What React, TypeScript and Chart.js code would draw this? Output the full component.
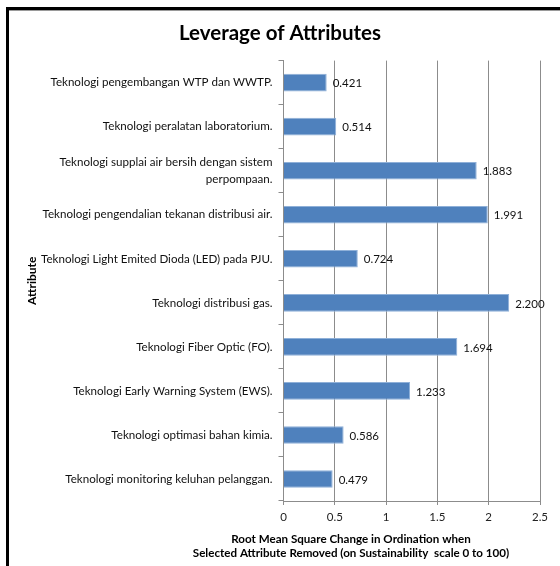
import React, { useEffect, useRef } from "react";
import { Chart, registerables } from "chart.js";

Chart.register(...registerables);

const categories: (string | string[])[] = [
  "Teknologi pengembangan WTP dan WWTP.",
  "Teknologi peralatan laboratorium.",
  ["Teknologi supplai air bersih dengan sistem", "perpompaan."],
  "Teknologi pengendalian tekanan distribusi air.",
  "Teknologi Light Emited Dioda (LED) pada PJU.",
  "Teknologi distribusi gas.",
  "Teknologi Fiber Optic (FO).",
  "Teknologi Early Warning System (EWS).",
  "Teknologi optimasi bahan kimia.",
  "Teknologi monitoring keluhan pelanggan.",
];

const leverageValues: number[] = [0.421, 0.514, 1.883, 1.991, 0.724, 2.2, 1.694, 1.233, 0.586, 0.479];

const chartTitle = "Leverage of Attributes";
const yAxisTitle = "Attribute";
const xAxisTitleLines = [
  "Root Mean Square Change in Ordination when",
  "Selected Attribute Removed (on Sustainability  scale 0 to 100)",
];
const xMin = 0;
const xMax = 2.5;
const xStep = 0.5;

const FONT = "Lato, 'Open Sans', sans-serif";

const decorPlugin = {
  id: "decor",
  beforeDraw(chart: any) {
    const { ctx } = chart;
    ctx.save();
    ctx.fillStyle = "#ffffff";
    ctx.fillRect(0, 0, chart.width, chart.height);
    ctx.restore();
  },
  afterDraw(chart: any) {
    const { ctx } = chart;
    ctx.save();
    // frame
    ctx.fillStyle = "#000000";
    ctx.fillRect(6, 7, chart.width - 6, 3);
    ctx.fillRect(6, 7, 3, chart.height - 7);
    ctx.fillStyle = "#9a9a9a";
    ctx.fillRect(9, 10, chart.width - 9, 1);
    // x axis title
    ctx.fillStyle = "#000000";
    ctx.font = `bold 11.6px ${FONT}`;
    ctx.textAlign = "center";
    ctx.textBaseline = "middle";
    const cx = 351;
    ctx.fillText(xAxisTitleLines[0], cx, 539);
    ctx.fillText(xAxisTitleLines[1], cx, 553);
    ctx.restore();
  },
  afterDatasetsDraw(chart: any) {
    const { ctx } = chart;
    const meta = chart.getDatasetMeta(0);
    ctx.save();
    ctx.fillStyle = "#111111";
    ctx.font = `11.5px ${FONT}`;
    ctx.textAlign = "left";
    ctx.textBaseline = "middle";
    meta.data.forEach((el: any, i: number) => {
      const v = chart.data.datasets[0].data[i] as number;
      ctx.fillText(v.toFixed(3), el.x + 6, el.y + 1);
    });
    ctx.restore();
  },
};

export default function App() {
  const ref = useRef<HTMLCanvasElement | null>(null);
  useEffect(() => {
    if (!ref.current) return;
    const chart = new Chart(ref.current, {
      type: "bar",
      data: {
        labels: categories,
        datasets: [
          {
            data: leverageValues,
            backgroundColor: "#4F81BD",
            borderColor: "#8FB0D8",
            borderWidth: 1,
            barPercentage: 0.4,
            categoryPercentage: 1,
          },
        ],
      },
      options: {
        indexAxis: "y",
        responsive: false,
        animation: false,
        layout: { padding: { left: 20, right: 20, top: 10, bottom: 0 } },
        plugins: {
          legend: { display: false },
          tooltip: { enabled: false },
          title: {
            display: true,
            text: chartTitle,
            color: "#000000",
            font: { family: FONT, size: 20.5, weight: "bold" },
            padding: { top: 11, bottom: 15 },
          },
        },
        scales: {
          x: {
            type: "linear",
            min: xMin,
            max: xMax,
            ticks: {
              stepSize: xStep,
              color: "#222222",
              font: { family: FONT, size: 11.5 },
              padding: 5,
              callback: (v: any) => String(v),
            },
            grid: {
              color: "#8c8c8c",
              lineWidth: 1,
              tickLength: 4,
              drawTicks: true,
            },
            border: { display: true, color: "#8c8c8c" },
            afterFit: (s: any) => {
              s.height = 65;
            },
          },
          y: {
            type: "category",
            ticks: {
              color: "#111111",
              font: { family: FONT, size: 11.6, lineHeight: 1.45 },
              padding: 6,
              autoSkip: false,
            },
            grid: {
              offset: true,
              drawOnChartArea: false,
              drawTicks: true,
              tickLength: 5,
              color: "#8c8c8c",
            },
            border: { display: true, color: "#8c8c8c" },
            title: {
              display: true,
              text: yAxisTitle,
              color: "#000000",
              font: { family: FONT, size: 12, weight: "bold" },
              padding: { top: 5, bottom: 4 },
            },
            afterFit: (s: any) => {
              s.width = 263.5;
            },
          },
        },
      },
      plugins: [decorPlugin],
    });
    return () => chart.destroy();
  }, []);
  return (
    <div style={{ position: "absolute", left: 0, top: 0, width: 560, height: 566 }}>
      <canvas ref={ref} width={560} height={566} style={{ display: "block" }} />
    </div>
  );
}
